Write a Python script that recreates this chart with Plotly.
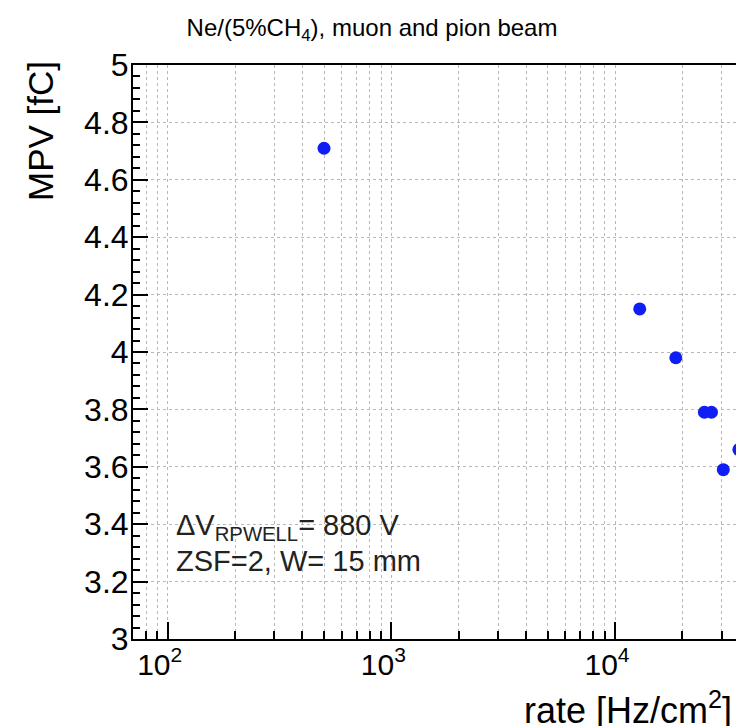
import plotly.graph_objects as go

# MPV versus particle rate, Ne/(5%CH4) RPWELL at 880 V
rate = [500, 12900, 18700, 25100, 27000, 30500, 35800]
mpv = [4.71, 4.15, 3.98, 3.79, 3.79, 3.59, 3.66]

major_x = [100, 1000, 10000]
major_x_text = ["10<sup>2</sup>", "10<sup>3</sup>", "10<sup>4</sup>"]
minor_x = [m * 10 ** d for d in range(1, 5) for m in range(2, 10)]

W, H = 736, 726
ML, MT, MB, MR = 133, 65, 87, 0
PW, PH = W - ML - MR, H - MT - MB

# log-axis window: 10^2 sits 34.7 px right of the frame, one decade spans 223.65 px
x_lo = 2 - 34.7 / 223.65
x_hi = x_lo + PW / 223.65


def px_x(px):
    return (px - ML) / PW


def px_y(py):
    return 1 - (py - MT) / PH


fig = go.Figure()
fig.add_trace(go.Scatter(
    x=rate, y=mpv, mode="markers",
    marker=dict(color="#0f1ef2", size=13, line=dict(width=0)),
    cliponaxis=True, showlegend=False,
))

font = "Liberation Sans, Arial, Helvetica, sans-serif"
grid = dict(showgrid=True, gridcolor="#b8b8b8", griddash="dot", gridwidth=1)

fig.update_xaxes(
    type="log", range=[x_lo, x_hi],
    tickmode="array", tickvals=major_x, ticktext=major_x_text,
    ticks="inside", ticklen=17, tickwidth=2, tickcolor="black",
    showline=True, linecolor="black", linewidth=2, mirror=True,
    tickfont=dict(family=font, size=30, color="black"),
    ticklabelstandoff=-2, ticklabelshift=-8,
    minor=dict(tickmode="array", tickvals=minor_x, ticks="inside", ticklen=8,
               tickwidth=2, tickcolor="black", **grid),
    zeroline=False, **grid,
)
fig.update_yaxes(
    range=[3, 5], tickmode="linear", tick0=3, dtick=0.2,
    ticks="inside", ticklen=15, tickwidth=2, tickcolor="black",
    showline=True, linecolor="black", linewidth=2, mirror=False,
    tickfont=dict(family=font, size=32, color="black"),
    ticklabelstandoff=-4,
    minor=dict(dtick=0.04, ticks="inside", ticklen=7, tickwidth=2,
               tickcolor="black", showgrid=False),
    zeroline=False, **grid,
)

fig.update_layout(
    width=W, height=H,
    margin=dict(l=ML, r=MR, t=MT, b=MB, pad=0),
    paper_bgcolor="white", plot_bgcolor="white",
    font=dict(family=font, color="black"),
    title=dict(
        text="Ne/(5%CH<sub>4</sub>), muon and pion beam",
        x=372 / W, xref="container", xanchor="center",
        y=1 - 28 / H, yref="container", yanchor="middle",
        font=dict(family=font, size=24, color="black"),
    ),
)

annotations = [
    dict(text="MPV [fC]", textangle=-90, xref="paper", yref="paper",
         x=px_x(40), y=px_y(59), xanchor="center", yanchor="top",
         showarrow=False, font=dict(family=font, size=35, color="black")),
    dict(text="rate [Hz/cm<sup>2</sup>]", xref="paper", yref="paper",
         x=px_x(522), y=px_y(708), xanchor="left", yanchor="middle",
         showarrow=False, font=dict(family=font, size=36, color="black")),
    dict(text="ΔV<sub>RPWELL</sub>= 880 V", xref="paper", yref="paper",
         x=px_x(174), y=px_y(527), xanchor="left", yanchor="middle",
         showarrow=False, font=dict(family=font, size=29, color="#222222")),
    dict(text="ZSF=2, W= 15 mm", xref="paper", yref="paper",
         x=px_x(174), y=px_y(561), xanchor="left", yanchor="middle",
         showarrow=False, font=dict(family=font, size=29, color="#222222")),
]
fig.update_layout(annotations=annotations)

fig.write_html("out.html")
